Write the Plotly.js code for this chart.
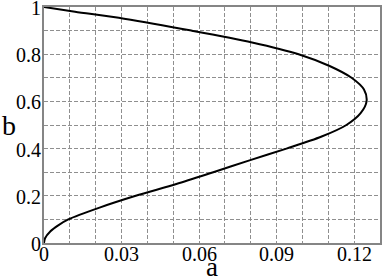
<!DOCTYPE html>
<html>
<head>
<meta charset="utf-8">
<script src="https://cdn.plot.ly/plotly-3.0.1.min.js"></script>
<style>
  html, body { margin: 0; padding: 0; background: #fff; }
  #plot { width: 382px; height: 277px; }
</style>
</head>
<body>
<div id="plot"></div>
<script>
    // curve: a as a function of b
    const bVals = [0, 0.02, 0.05, 0.075, 0.1, 0.15, 0.2, 0.25, 0.3, 0.35, 0.4, 0.45, 0.5, 0.55, 0.6, 0.65, 0.7, 0.75, 0.8, 0.85, 0.9, 0.95, 0.98, 1]
    const aVals = [0, 0.0004, 0.0025, 0.0055, 0.0094, 0.0215, 0.0355, 0.0512, 0.0655, 0.0795, 0.0938, 0.1072, 0.117, 0.1225, 0.1248, 0.1238, 0.119, 0.1105, 0.0985, 0.0805, 0.057, 0.031, 0.012, 0]

    // grid lines every 0.01 / 0.1
    const xGrid = [0, 0.01, 0.02, 0.03, 0.04, 0.05, 0.06, 0.07, 0.08, 0.09, 0.1, 0.11, 0.12, 0.13]
    const yGrid = [0, 0.1, 0.2, 0.3, 0.4, 0.5, 0.6, 0.7, 0.8, 0.9, 1]
    // labelled ticks
    const xTickVals = [0, 0.03, 0.06, 0.09, 0.12]
    const xTickText = ['0', '0.03', '0.06', '0.09', '0.12']
    const yTickVals = [0, 0.2, 0.4, 0.6, 0.8, 1]
    const yTickText = ['0', '0.2', '0.4', '0.6', '0.8', '1']

    const gridColor = '#8f8f8f';
    const frameColor = '#858585';
    const serif = '"Liberation Serif", serif';

    const curve = {
        x: aVals,
        y: bVals,
        mode: 'lines',
        type: 'scatter',
        line: { color: 'black', width: 2, shape: 'spline', smoothing: 0.8 },
        hoverinfo: 'skip',
    };

    // tick labels as annotations so the serif font is kept
    const annotations = [];
    xTickVals.forEach(function (v, i) {
        annotations.push({
            text: xTickText[i], xref: 'x', yref: 'paper', x: v, y: -0.046,
            showarrow: false, borderpad: 0, xanchor: 'center', yanchor: 'middle',
            font: { family: serif, size: 20, color: 'black' }
        });
    });
    yTickVals.forEach(function (v, i) {
        annotations.push({
            text: yTickText[i], xref: 'paper', yref: 'y', x: -0.005, y: v, yshift: -1,
            showarrow: false, borderpad: 0, xanchor: 'right', yanchor: 'middle',
            font: { family: serif, size: 20, color: 'black' }
        });
    });
    annotations.push({
        text: 'b', xref: 'paper', yref: 'paper', x: -0.104, y: 0.496,
        showarrow: false, font: { family: serif, size: 28, color: 'black' }, xanchor: 'center', yanchor: 'middle'
    });
    annotations.push({
        text: 'a', xref: 'paper', yref: 'paper', x: 0.5, y: -0.103,
        showarrow: false, font: { family: serif, size: 27, color: 'black' }, xanchor: 'center', yanchor: 'middle'
    });

    var layout = {
        width: 382,
        height: 277,
        margin: { l: 44, r: 2, t: 7, b: 34 },
        paper_bgcolor: 'white',
        plot_bgcolor: 'white',
        showlegend: false,
        font: { family: serif, size: 20, color: 'black' },
        xaxis: {
            range: [0, 0.13],
            tickmode: 'array',
            tickvals: xGrid,
            showticklabels: false,
            ticks: '',
            showline: true, mirror: true, linecolor: frameColor, linewidth: 2,
            zeroline: false,
            showgrid: true, gridcolor: gridColor, gridwidth: 1, griddash: '4px,2px',
        },
        yaxis: {
            range: [0, 1],
            tickmode: 'array',
            tickvals: yGrid,
            showticklabels: false,
            ticks: '',
            showline: true, mirror: true, linecolor: frameColor, linewidth: 2,
            zeroline: false,
            showgrid: true, gridcolor: gridColor, gridwidth: 1, griddash: '4px,2px',
        },
        annotations: annotations,
    };

    Plotly.newPlot('plot', [curve], layout, { displayModeBar: false });
</script>
</body>
</html>
